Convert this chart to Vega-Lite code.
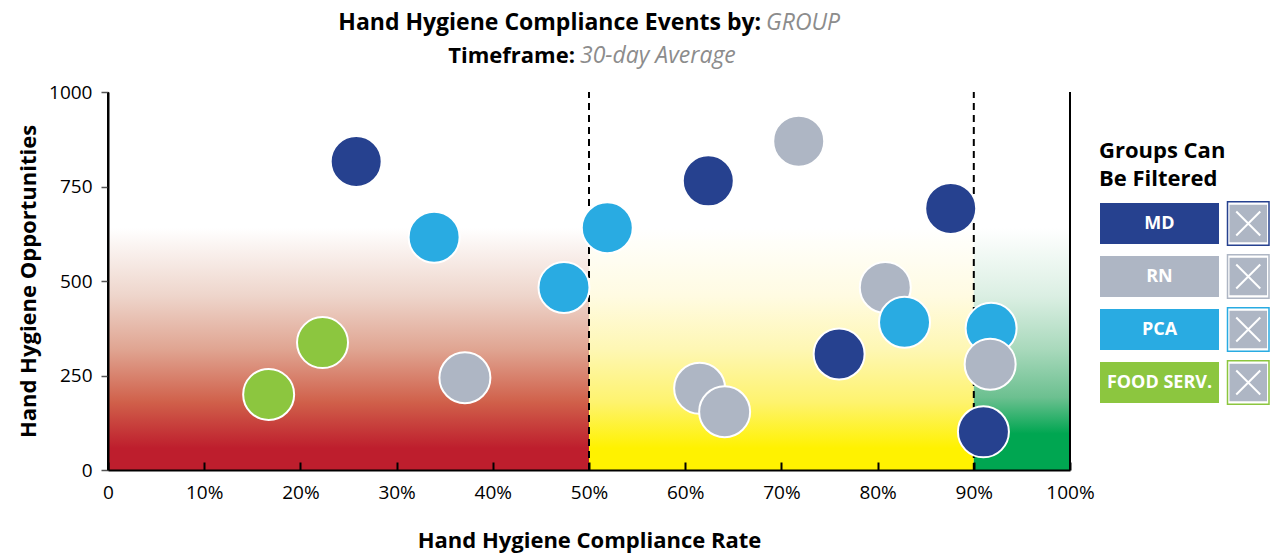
{
  "$schema": "https://vega.github.io/schema/vega-lite/v6.json",
  "padding": {"left": 17, "top": 12, "right": 9, "bottom": 4},
  "bounds": "flush",
  "spacing": 29,
  "config": {
    "view": {"stroke": null},
    "font": "Open Sans",
    "axis": {
      "grid": false,
      "zindex": 1,
      "labelFlush": false,
      "domainColor": "#000000",
      "domainWidth": 2,
      "tickColor": "#000000",
      "tickWidth": 2,
      "labelFont": "Open Sans",
      "labelFontSize": 19,
      "labelColor": "#000000",
      "titleFont": "Open Sans",
      "titleFontSize": 22,
      "titleFontWeight": "bold",
      "titleColor": "#000000"
    }
  },
  "hconcat": [
    {
      "width": 962,
      "height": 378,
      "layer": [
        {
          "data": {"values": [{"zone": "Low", "from": 0, "to": 50}]},
          "mark": {"type": "rect", "fill": {"gradient": "linear", "x1": 0, "y1": 1, "x2": 0, "y2": 0, "stops": [
            {"offset": 0, "color": "#be1e2d"}, {"offset": 0.09, "color": "#be1e2d"}, {"offset": 0.28, "color": "#d0604a"},
            {"offset": 0.5, "color": "#e0a592"}, {"offset": 0.72, "color": "#eed5cb"}, {"offset": 1, "color": "#ffffff"}]}},
          "encoding": {
            "x": {"field": "from", "type": "quantitative"},
            "x2": {"field": "to"},
            "y": {"datum": 0, "type": "quantitative"},
            "y2": {"datum": 640}
          }
        },
        {
          "data": {"values": [{"zone": "Mid", "from": 50, "to": 90}]},
          "mark": {"type": "rect", "fill": {"gradient": "linear", "x1": 0, "y1": 1, "x2": 0, "y2": 0, "stops": [
            {"offset": 0, "color": "#fff200"}, {"offset": 0.09, "color": "#fff200"}, {"offset": 0.28, "color": "#fef36e"},
            {"offset": 0.5, "color": "#fef7b4"}, {"offset": 0.72, "color": "#fffbe2"}, {"offset": 1, "color": "#ffffff"}]}},
          "encoding": {
            "x": {"field": "from", "type": "quantitative"},
            "x2": {"field": "to"},
            "y": {"datum": 0, "type": "quantitative"},
            "y2": {"datum": 640}
          }
        },
        {
          "data": {"values": [{"zone": "High", "from": 90, "to": 100}]},
          "mark": {"type": "rect", "fill": {"gradient": "linear", "x1": 0, "y1": 1, "x2": 0, "y2": 0, "stops": [
            {"offset": 0, "color": "#00a651"}, {"offset": 0.15, "color": "#00a651"}, {"offset": 0.3, "color": "#6cc090"},
            {"offset": 0.5, "color": "#a9d9bc"}, {"offset": 0.72, "color": "#dbefe3"}, {"offset": 1, "color": "#ffffff"}]}},
          "encoding": {
            "x": {"field": "from", "type": "quantitative"},
            "x2": {"field": "to"},
            "y": {"datum": 0, "type": "quantitative"},
            "y2": {"datum": 640}
          }
        },
        {
          "data": {"values": [{"threshold": 50}, {"threshold": 90}]},
          "mark": {"type": "rule", "color": "#000000", "strokeWidth": 2, "strokeDash": [7, 5]},
          "encoding": {
            "x": {"field": "threshold", "type": "quantitative"},
            "y": {"datum": 0, "type": "quantitative"},
            "y2": {"datum": 1000}
          }
        },
        {
          "data": {"values": [{"boundary": 0, "tick": 0}, {"boundary": 100, "tick": 100}]},
          "mark": {"type": "rule", "color": "#000000", "strokeWidth": 2},
          "encoding": {
            "x": {"field": "boundary", "type": "quantitative"},
            "y": {"datum": 0, "type": "quantitative"},
            "y2": {"datum": 1000}
          }
        },
        {
          "data": {"values": [
            {"group": "FOOD SERV.", "rate": 16.7, "opportunities": 200},
            {"group": "FOOD SERV.", "rate": 22.3, "opportunities": 337},
            {"group": "RN", "rate": 37.1, "opportunities": 244},
            {"group": "MD", "rate": 25.8, "opportunities": 816},
            {"group": "PCA", "rate": 33.9, "opportunities": 616},
            {"group": "PCA", "rate": 47.4, "opportunities": 483},
            {"group": "PCA", "rate": 51.9, "opportunities": 641},
            {"group": "MD", "rate": 62.4, "opportunities": 765},
            {"group": "RN", "rate": 71.8, "opportunities": 870},
            {"group": "RN", "rate": 61.5, "opportunities": 216},
            {"group": "RN", "rate": 64.1, "opportunities": 154},
            {"group": "MD", "rate": 76.0, "opportunities": 307},
            {"group": "RN", "rate": 80.8, "opportunities": 483},
            {"group": "PCA", "rate": 82.8, "opportunities": 391},
            {"group": "MD", "rate": 87.6, "opportunities": 692},
            {"group": "PCA", "rate": 91.8, "opportunities": 375},
            {"group": "RN", "rate": 91.7, "opportunities": 280},
            {"group": "MD", "rate": 91.0, "opportunities": 101}
          ]},
          "mark": {"type": "circle", "size": 2600, "opacity": 1, "stroke": "#ffffff", "strokeWidth": 2},
          "encoding": {
            "x": {
              "field": "rate", "type": "quantitative",
              "scale": {"domain": [0, 100], "nice": false},
              "axis": {
                "values": [0, 10, 20, 30, 40, 50, 60, 70, 80, 90, 100],
                "labelExpr": "datum.value == 0 ? '0' : datum.value + '%'",
                "title": "Hand Hygiene Compliance Rate",
                "tickSize": -8,
                "labelPadding": 21,
                "titlePadding": 28,
                "zindex": 2
              }
            },
            "y": {
              "field": "opportunities", "type": "quantitative",
              "scale": {"domain": [0, 1000], "nice": false},
              "axis": {
                "values": [0, 250, 500, 750, 1000],
                "format": "d",
                "title": "Hand Hygiene Opportunities",
                "tickSize": 7,
                "tickColor": "#555555",
                "tickWidth": 1.5,
                "labelPadding": 9,
                "titlePadding": 8,
                "zindex": 2
              }
            },
            "color": {
              "field": "group", "type": "nominal",
              "scale": {"domain": ["MD", "RN", "PCA", "FOOD SERV."], "range": ["#26418f", "#aeb6c4", "#29abe2", "#8cc63f"]},
              "legend": null
            }
          }
        },
        {
          "data": {"values": [{"label": "Hand Hygiene Compliance Events by:"}]},
          "mark": {"type": "text", "align": "right", "baseline": "alphabetic", "fontSize": 23, "fontWeight": "bold", "color": "#000000", "dx": -2},
          "encoding": {
            "x": {"datum": 68.1, "type": "quantitative"},
            "y": {"datum": 1164, "type": "quantitative"},
            "text": {"field": "label"}
          }
        },
        {
          "data": {"values": [{"label": "GROUP"}]},
          "mark": {"type": "text", "align": "left", "baseline": "alphabetic", "fontSize": 23, "fontStyle": "italic", "color": "#8c8c8c", "dx": 3},
          "encoding": {
            "x": {"datum": 68.1, "type": "quantitative"},
            "y": {"datum": 1164, "type": "quantitative"},
            "text": {"field": "label"}
          }
        },
        {
          "data": {"values": [{"label": "Timeframe:"}]},
          "mark": {"type": "text", "align": "right", "baseline": "alphabetic", "fontSize": 22, "fontWeight": "bold", "color": "#000000", "dx": -2},
          "encoding": {
            "x": {"datum": 48.75, "type": "quantitative"},
            "y": {"datum": 1077, "type": "quantitative"},
            "text": {"field": "label"}
          }
        },
        {
          "data": {"values": [{"label": "30-day Average"}]},
          "mark": {"type": "text", "align": "left", "baseline": "alphabetic", "fontSize": 23, "fontStyle": "italic", "color": "#8c8c8c", "dx": 3},
          "encoding": {
            "x": {"datum": 48.75, "type": "quantitative"},
            "y": {"datum": 1077, "type": "quantitative"},
            "text": {"field": "label"}
          }
        }
      ]
    },
    {
      "width": 170,
      "height": 378,
      "data": {"values": [{"group": "MD"}, {"group": "RN"}, {"group": "PCA"}, {"group": "FOOD SERV."}]},
      "encoding": {
        "y": {
          "field": "group", "type": "nominal",
          "scale": {"domain": ["MD", "RN", "PCA", "FOOD SERV."], "range": [105, 317], "paddingInner": 0.226, "paddingOuter": 0.113},
          "axis": null
        }
      },
      "layer": [
        {
          "mark": {"type": "bar", "orient": "horizontal"},
          "encoding": {
            "x": {"datum": 1, "type": "quantitative", "scale": {"domain": [0, 170], "nice": false, "zero": false}, "axis": null},
            "x2": {"datum": 120},
            "color": {
              "field": "group", "type": "nominal",
              "scale": {"domain": ["MD", "RN", "PCA", "FOOD SERV."], "range": ["#26418f", "#aeb6c4", "#29abe2", "#8cc63f"]},
              "legend": null
            }
          }
        },
        {
          "mark": {"type": "bar", "orient": "horizontal", "fill": "#ffffff", "strokeWidth": 1.5, "height": {"band": 1.06}},
          "encoding": {
            "x": {"datum": 128.5, "type": "quantitative"},
            "x2": {"datum": 170},
            "stroke": {
              "field": "group", "type": "nominal",
              "scale": {"domain": ["MD", "RN", "PCA", "FOOD SERV."], "range": ["#26418f", "#aeb6c4", "#29abe2", "#8cc63f"]},
              "legend": null
            }
          }
        },
        {
          "mark": {"type": "bar", "orient": "horizontal", "fill": "#aeb6c4", "height": {"band": 0.92}},
          "encoding": {
            "x": {"datum": 130.5, "type": "quantitative"},
            "x2": {"datum": 168}
          }
        },
        {
          "mark": {"type": "point", "shape": "M-1,-1L1,1M1,-1L-1,1", "size": 576, "filled": false, "stroke": "#ffffff", "strokeWidth": 2, "opacity": 1},
          "encoding": {
            "x": {"datum": 149.25, "type": "quantitative"}
          }
        },
        {
          "mark": {"type": "text", "color": "#ffffff", "fontWeight": "bold", "fontSize": 18, "align": "center", "baseline": "middle"},
          "encoding": {
            "x": {"datum": 60.5, "type": "quantitative"},
            "text": {"field": "group"}
          }
        },
        {
          "data": {"values": [{"heading": "Groups Can\nBe Filtered"}]},
          "mark": {"type": "text", "align": "left", "baseline": "alphabetic", "fontSize": 22, "fontWeight": "bold", "color": "#000000", "lineBreak": "\n", "lineHeight": 27.5, "dy": -65.5},
          "encoding": {
            "x": {"datum": 0, "type": "quantitative"},
            "y": {"datum": "MD", "type": "nominal"},
            "text": {"field": "heading"}
          }
        }
      ]
    }
  ]
}
